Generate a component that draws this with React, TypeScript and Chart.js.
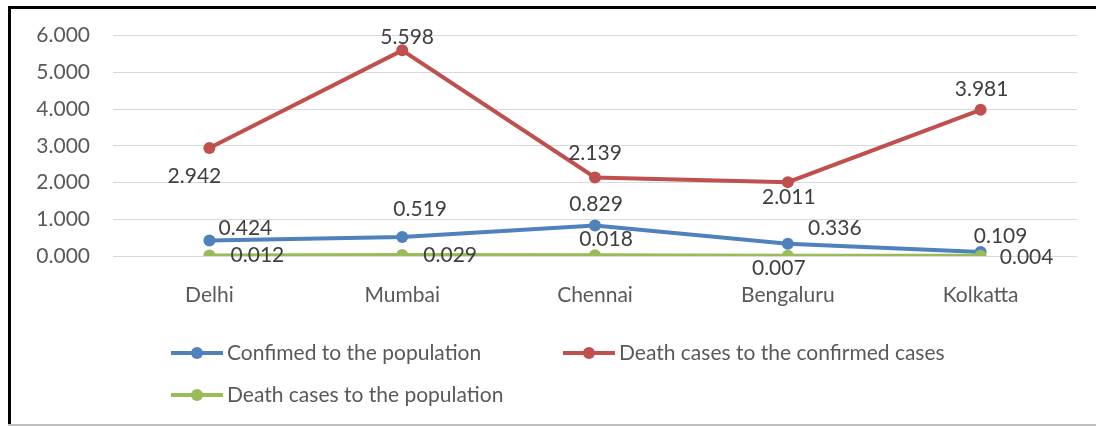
import React, { useEffect, useRef } from "react";
import { Chart, registerables } from "chart.js";

Chart.register(...registerables);

const categories = ["Delhi", "Mumbai", "Chennai", "Bengaluru", "Kolkatta"];
const confirmedToPopulation = [0.424, 0.519, 0.829, 0.336, 0.109];
const deathToConfirmed = [2.942, 5.598, 2.139, 2.011, 3.981];
const deathToPopulation = [0.012, 0.029, 0.018, 0.007, 0.004];
const yTicks = [0, 1, 2, 3, 4, 5, 6];

const seriesNames = [
  "Confimed to the population",
  "Death cases to the confirmed cases",
  "Death cases to the population",
];
const colors = ["#4F81BD", "#C0504D", "#9BBB59"];

// label offsets relative to each point (style only)
const labelOffsets = [
  [[36, -12], [18, -28], [1, -21], [47, -15], [20, -16]],
  [[-15, 28], [5, -13], [0, -24], [1, 15], [1, -21]],
  [[48, 0], [48, 0], [11, -16], [-9, 12], [46, 1]],
];

const FONT = "Lato, 'Open Sans', sans-serif";
const FS = 21;

const framePlugin = {
  id: "frame",
  beforeDraw(chart: any) {
    const { ctx, width, height } = chart;
    ctx.save();
    ctx.fillStyle = "#ffffff";
    ctx.fillRect(0, 0, width, height);
    ctx.fillStyle = "#000000";
    ctx.fillRect(8, 6, 3, height - 6);
    ctx.fillRect(8, 6, width - 8, 3);
    ctx.fillStyle = "#bfbfbf";
    ctx.fillRect(8, height - 2, width - 8, 2);
    ctx.restore();
  },
};

const labelPlugin = {
  id: "valueLabels",
  afterDatasetsDraw(chart: any) {
    const { ctx } = chart;
    ctx.save();
    ctx.font = `${FS}px ${FONT}`;
    ctx.fillStyle = "#404040";
    ctx.textAlign = "center";
    ctx.textBaseline = "middle";
    chart.data.datasets.forEach((ds: any, i: number) => {
      const meta = chart.getDatasetMeta(i);
      meta.data.forEach((pt: any, j: number) => {
        const [dx, dy] = labelOffsets[i][j];
        ctx.fillText(Number(ds.data[j]).toFixed(3), pt.x + dx, pt.y + dy);
      });
    });
    ctx.restore();
  },
};

const legendPlugin = {
  id: "customLegend",
  afterDraw(chart: any) {
    const { ctx } = chart;
    const items = [
      { x: 171, y: 353 },
      { x: 563, y: 353 },
      { x: 171, y: 395 },
    ];
    ctx.save();
    ctx.font = `${FS}px ${FONT}`;
    ctx.textBaseline = "middle";
    ctx.textAlign = "left";
    [0, 1, 2].forEach((si, k) => {
      const { x, y } = items[k];
      ctx.strokeStyle = colors[si];
      ctx.lineWidth = 4;
      ctx.beginPath();
      ctx.moveTo(x, y);
      ctx.lineTo(x + 52, y);
      ctx.stroke();
      ctx.fillStyle = colors[si];
      ctx.beginPath();
      ctx.arc(x + 26, y, 6, 0, Math.PI * 2);
      ctx.fill();
      ctx.fillStyle = "#595959";
      ctx.fillText(seriesNames[si], x + 56, y);
    });
    ctx.restore();
  },
};

export default function App() {
  const ref = useRef<HTMLCanvasElement>(null);
  useEffect(() => {
    document.body.style.margin = "0";
    const mk = (i: number, data: number[], order: number) => ({
      label: seriesNames[i],
      data,
      borderColor: colors[i],
      backgroundColor: colors[i],
      pointBackgroundColor: colors[i],
      pointBorderColor: colors[i],
      borderWidth: 4,
      pointRadius: 6,
      pointBorderWidth: 0,
      tension: 0,
      order,
    });
    const chart = new Chart(ref.current!, {
      type: "line",
      data: {
        labels: categories,
        datasets: [
          mk(0, confirmedToPopulation, 3),
          mk(1, deathToConfirmed, 2),
          mk(2, deathToPopulation, 1),
        ],
      },
      options: {
        animation: false,
        responsive: false,
        devicePixelRatio: 1,
        layout: { padding: { left: 10, right: 19, top: 33, bottom: 120 } },
        plugins: { legend: { display: false }, tooltip: { enabled: false } },
        scales: {
          x: {
            offset: true,
            grid: { display: false, drawTicks: false },
            border: { display: false },
            ticks: { padding: 27, color: "#595959", font: { family: FONT, size: FS } },
            afterFit: (s: any) => { s.height = 50; },
          },
          y: {
            min: yTicks[0],
            max: yTicks[yTicks.length - 1],
            afterBuildTicks: (s: any) => { s.ticks = yTicks.map((v) => ({ value: v })); },
            grid: { color: "#d9d9d9", lineWidth: 1, drawTicks: false },
            border: { display: false },
            ticks: {
              padding: 23,
              color: "#595959",
              font: { family: FONT, size: FS },
              callback: (v: any) => Number(v).toFixed(3),
            },
            afterFit: (s: any) => { s.width = 103; },
          },
        },
      },
      plugins: [framePlugin, labelPlugin, legendPlugin],
    });
    return () => chart.destroy();
  }, []);
  return <canvas ref={ref} width={1096} height={426} style={{ display: "block" }} />;
}
